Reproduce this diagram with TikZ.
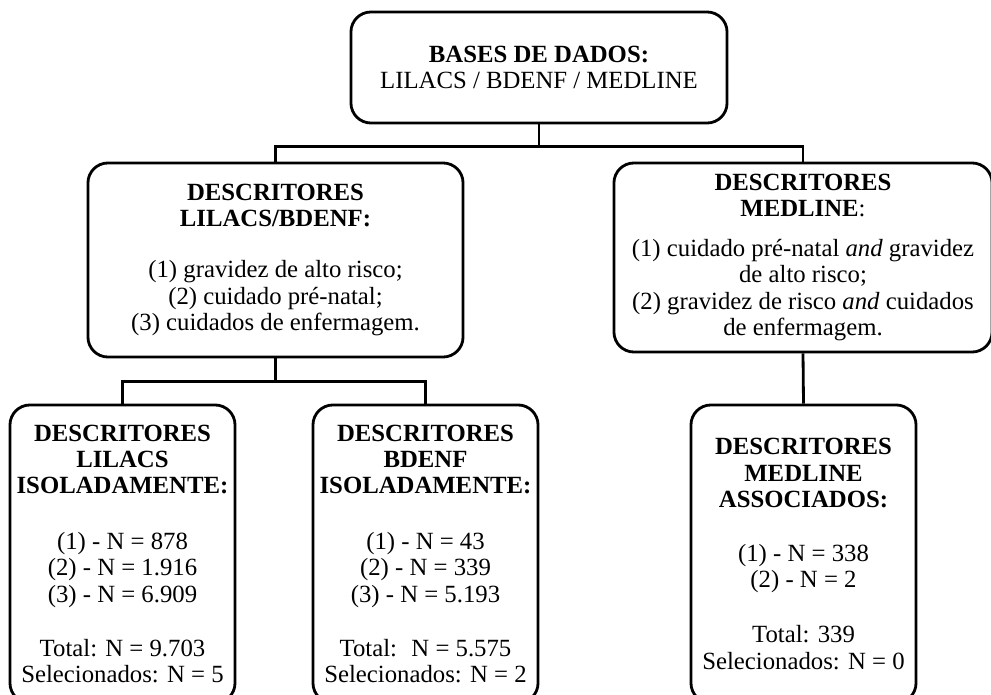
\documentclass[tikz,border=0pt]{standalone}
\usepackage{fontspec}
\setmainfont{Liberation Serif}
\usepackage{tikz}
\usetikzlibrary{positioning,calc}
\tikzstyle{descbox} = [draw,line width=2pt,rounded corners=0.5cm,align=center,inner sep=0pt,font=\fontsize{17.6}{18.8}\selectfont]
\tikzstyle{link} = [line width=2pt]

\begin{document}
\begin{tikzpicture}[x=0.025cm,y=-0.025cm]
      \useasboundingbox (0,0) rectangle (991,695);
      \clip (0,0) rectangle (991,695);
                  \node (bases)[descbox,minimum width=9.4cm,minimum height=2.775cm]  at (539,67.5)
                        {\textbf{BASES DE DADOS:}\\ LILACS / BDENF / MEDLINE};
                  \node (dlb)[descbox,minimum width=9.375cm,minimum height=4.85cm]  at (275.5,260)
                        {\textbf{DESCRITORES}\\ \textbf{LILACS/BDENF:}\\[0.62cm]
                         (1) gravidez de alto risco;\\ (2) cuidado pré-natal;\\ (3) cuidados de enfermagem.};
                  \node (dmed)[descbox,minimum width=9.45cm,minimum height=4.725cm]  at (803,257.5)
                        {\textbf{DESCRITORES}\\ \textbf{MEDLINE}:\\[0.33cm]
                         (1) cuidado pré-natal \textit{and} gravidez\\ de alto risco;\\
                         (2) gravidez de risco \textit{and} cuidados\\ de enfermagem.};

                  \node (lil)[descbox,minimum width=5.625cm,minimum height=7.45cm]  at (122.5,554)
                        {\textbf{DESCRITORES}\\ \textbf{LILACS}\\ \textbf{ISOLADAMENTE:}\\[0.72cm]
                         (1) - N = 878\\ (2) - N = 1.916\\ (3) - N = 6.909\\[0.7cm]
                         Total: N = 9.703\\ Selecionados: N = 5};
                  \node (bd)[descbox,minimum width=5.625cm,minimum height=7.45cm]  at (425.5,554)
                        {\textbf{DESCRITORES}\\ \textbf{BDENF}\\ \textbf{ISOLADAMENTE:}\\[0.72cm]
                         (1) - N = 43\\ (2) - N = 339\\ (3) - N = 5.193\\[0.7cm]
                         Total:~ N = 5.575\\ Selecionados: N = 2};
                  \node (med)[descbox,minimum width=5.625cm,minimum height=7.45cm]  at (803.5,554)
                        {\textbf{DESCRITORES}\\ \textbf{MEDLINE}\\ \textbf{ASSOCIADOS:}\\[0.68cm]
                         (1) - N = 338\\ (2) - N = 2\\[0.72cm]
                         Total: 339\\ Selecionados: N = 0};

                  \draw[link] (bases.south) -- ++(0,22) -| (dlb.north);
                  \draw[link] (bases.south) -- ++(0,22) -| (dmed.north);
                  \draw[link] (dlb.south) -- ++(0,23) -| (lil.north);
                  \draw[link] (dlb.south) -- ++(0,23) -| (bd.north);
                  \draw[link] (dmed.south) -- (med.north);
            \end{tikzpicture}
\end{document}
